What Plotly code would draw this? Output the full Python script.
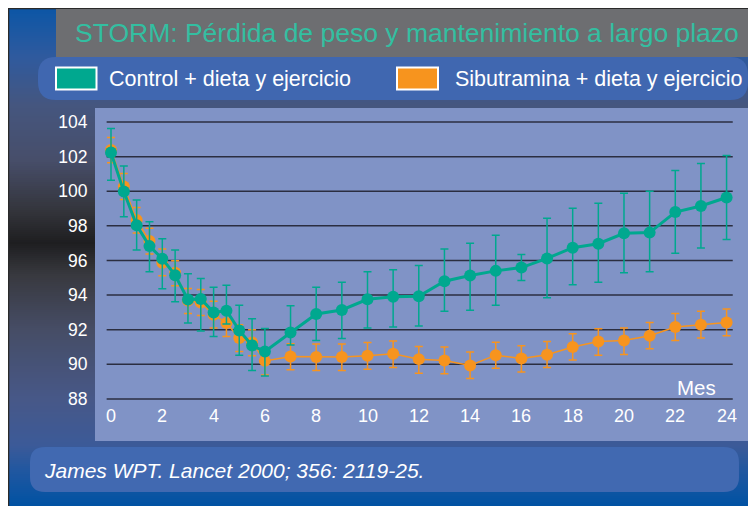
import plotly.graph_objects as go

# ---------------- data ----------------
months = [0, 0.5, 1, 1.5, 2, 2.5, 3, 3.5, 4, 4.5, 5, 5.5, 6,
          7, 8, 9, 10, 11, 12, 13, 14, 15, 16, 17, 18, 19, 20, 21, 22, 23, 24]

control = [102.24, 99.98, 98.03, 96.83, 96.10, 95.15, 93.74, 93.78, 93.00, 93.10, 91.96, 91.09, 90.74,
           91.84, 92.91, 93.14, 93.76, 93.90, 93.93, 94.80, 95.13, 95.40, 95.59, 96.12,
           96.74, 96.97, 97.57, 97.61, 98.80, 99.15, 99.64]
control_err_up = [1.39, 1.48, 1.47, 1.41, 1.16, 1.45, 1.49, 1.18, 1.45, 1.47, 1.45, 1.55, 1.33,
                  1.55, 1.54, 1.60, 1.59, 1.57, 1.78, 1.86, 1.86, 2.06, 0.75, 2.32,
                  2.28, 2.34, 2.32, 2.39, 2.40, 2.46, 2.43]
control_err_down = [1.61, 1.45, 1.43, 1.48, 1.74, 1.54, 1.35, 1.86, 1.39, 0.77, 1.43, 1.45, 1.41,
                    0.73, 1.53, 1.65, 1.66, 1.74, 1.72, 1.74, 2.01, 1.99, 0.75, 2.28,
                    2.14, 2.23, 2.28, 2.26, 2.38, 2.43, 2.43]

sibutramine = [102.39, 100.27, 98.34, 97.12, 95.87, 95.29, 93.68, 93.57, 92.87, 92.39, 91.52, 91.26, 90.20,
               90.45, 90.42, 90.42, 90.49, 90.61, 90.30, 90.22, 89.93, 90.53, 90.34, 90.55,
               91.00, 91.32, 91.38, 91.65, 92.16, 92.29, 92.42]
sibutramine_err_up = [0.72, 0.75, 0.72, 0.74, 0.79, 0.70, 0.70, 0.75, 0.77, 0.67, 0.77, 0.74, 0.74,
                      0.74, 0.75, 0.75, 0.77, 0.74, 0.73, 0.78, 0.78, 0.75, 0.74, 0.77,
                      0.77, 0.74, 0.72, 0.77, 0.77, 0.77, 0.78]
sibutramine_err_down = [0.75, 0.75, 0.75, 0.75, 0.75, 0.75, 0.75, 0.75, 0.77, 0.78, 0.78, 0.77, 0.81,
                        0.77, 0.78, 0.78, 0.77, 0.79, 0.81, 0.77, 0.75, 0.75, 0.79, 0.74,
                        0.75, 0.79, 0.81, 0.75, 0.78, 0.77, 0.77]

x_ticks = [0, 2, 4, 6, 8, 10, 12, 14, 16, 18, 20, 22, 24]
y_ticks = [88, 90, 92, 94, 96, 98, 100, 102, 104]

title_text = "STORM: Pérdida de peso y mantenimiento a largo plazo"
name_control = "Control + dieta y ejercicio"
name_sibu = "Sibutramina + dieta y ejercicio"
citation = "James WPT. Lancet 2000; 356: 2119-25."
x_unit = "Mes"

# ---------------- styling ----------------
PAGE_W, PAGE_H = 756, 506
OFF = 8                      # default page body margin
W, H = PAGE_W - OFF, PAGE_H - OFF
PL, PR, PT, PB = 95, 753, 108, 441   # plot area in page pixels
GREEN = "#00a88f"
ORANGE = "#f7941e"
FONT = "Liberation Sans, Arial, sans-serif"


def px(x):
    return (x - PL) / (PR - PL)


def py(y):
    return (PB - y) / (PB - PT)


def hex2rgb(h):
    h = h.lstrip("#")
    return tuple(int(h[i:i + 2], 16) for i in (0, 2, 4))


stops = [(7, "#0b56a6"), (57, "#2f5a9e"), (105, "#45567f"), (160, "#474e6a"),
         (210, "#34353c"), (243, "#1e1e20"), (275, "#38393f"), (330, "#464d66"),
         (400, "#475888"), (445, "#3c5a98"), (470, "#2157a0"), (506, "#0052a3")]


def grad(y):
    for (ya, ca), (yb, cb) in zip(stops[:-1], stops[1:]):
        if ya <= y <= yb:
            t = (y - ya) / (yb - ya)
            a, b = hex2rgb(ca), hex2rgb(cb)
            return "rgb(%d,%d,%d)" % tuple(round(a[i] + (b[i] - a[i]) * t) for i in range(3))
    return stops[-1][1]


def rr(x0, y0, x1, y1, r):
    pts = [("M", [(x0 + r, y0)]), ("L", [(x1 - r, y0)]), ("Q", [(x1, y0), (x1, y0 + r)]),
           ("L", [(x1, y1 - r)]), ("Q", [(x1, y1), (x1 - r, y1)]), ("L", [(x0 + r, y1)]),
           ("Q", [(x0, y1), (x0, y1 - r)]), ("L", [(x0, y0 + r)]), ("Q", [(x0, y0), (x0 + r, y0)])]
    s = ""
    for cmd, ps in pts:
        s += cmd + " " + " ".join("%.5f,%.5f" % (px(a), py(b)) for a, b in ps) + " "
    return s + "Z"


shapes = []
step = 2
y = OFF
while y < PAGE_H:
    shapes.append(dict(type="rect", xref="paper", yref="paper", layer="below",
                       x0=px(OFF - 1), x1=px(PAGE_W + 2), y0=py(y - (1 if y == OFF else 0)),
                       y1=py(y + step + 0.6),
                       fillcolor=grad(y + step / 2), line=dict(width=0)))
    y += step

# borders
shapes.append(dict(type="line", xref="paper", yref="paper", layer="below",
                   x0=px(OFF + 0.5), x1=px(OFF + 0.5), y0=py(OFF), y1=py(PAGE_H + 2),
                   line=dict(color="#2a2a2a", width=1.5)))
shapes.append(dict(type="line", xref="paper", yref="paper", layer="below",
                   x0=px(OFF), x1=px(PAGE_W + 2), y0=py(OFF + 0.5), y1=py(OFF + 0.5),
                   line=dict(color="#2a2a2a", width=1.5)))
# title bar
shapes.append(dict(type="rect", xref="paper", yref="paper", layer="below",
                   x0=px(56), x1=px(PAGE_W + 2), y0=py(9), y1=py(57),
                   fillcolor="#6d6e71", line=dict(width=0)))
# legend pill
shapes.append(dict(type="path", xref="paper", yref="paper", layer="below",
                   path=rr(38, 57, 748, 100, 18), fillcolor="#4067b0", line=dict(width=0)))
shapes.append(dict(type="rect", xref="paper", yref="paper", layer="below",
                   x0=px(56), x1=px(96.5), y0=py(67.5), y1=py(89.5),
                   fillcolor=GREEN, line=dict(color="white", width=2)))
shapes.append(dict(type="rect", xref="paper", yref="paper", layer="below",
                   x0=px(397), x1=px(438), y0=py(67.5), y1=py(89.5),
                   fillcolor=ORANGE, line=dict(color="white", width=2)))
# citation pill
shapes.append(dict(type="path", xref="paper", yref="paper", layer="below",
                   path=rr(30, 447, 739, 492, 15), fillcolor="#4169b1", line=dict(width=0)))
# plot area
shapes.append(dict(type="rect", xref="paper", yref="paper", layer="below",
                   x0=0, x1=1, y0=0, y1=1, fillcolor="#8093c6", line=dict(width=0)))
# gridlines
for v in y_ticks:
    shapes.append(dict(type="line", xref="x", yref="y", layer="below",
                       x0=-0.17, x1=24.24, y0=v, y1=v,
                       line=dict(color="#2b2e40", width=1.5)))

annotations = [
    dict(text=title_text, x=px(73), y=py(33), xref="paper", yref="paper",
         xanchor="left", yanchor="middle", showarrow=False,
         font=dict(family=FONT, size=26.5, color="#33bfa1")),
    dict(text=name_control, x=px(107), y=py(79), xref="paper", yref="paper",
         xanchor="left", yanchor="middle", showarrow=False,
         font=dict(family=FONT, size=21.5, color="white")),
    dict(text=name_sibu, x=px(453), y=py(79), xref="paper", yref="paper",
         xanchor="left", yanchor="middle", showarrow=False,
         font=dict(family=FONT, size=21.5, color="white")),
    dict(text="<i>" + citation + "</i>", x=px(42), y=py(470), xref="paper", yref="paper",
         xanchor="left", yanchor="middle", showarrow=False,
         font=dict(family=FONT, size=21, color="white")),
    dict(text=x_unit, x=px(696), y=py(387), xref="paper", yref="paper",
         xanchor="center", yanchor="middle", showarrow=False,
         font=dict(family=FONT, size=20.5, color="white")),
]
for t in x_ticks:
    annotations.append(dict(text=str(t), x=t, y=py(416), xref="x", yref="paper",
                            xanchor="center", yanchor="middle", showarrow=False,
                            font=dict(family=FONT, size=18, color="white")))

fig = go.Figure()
fig.add_trace(go.Scatter(
    x=months, y=sibutramine, name=name_sibu, mode="lines+markers",
    line=dict(color=ORANGE, width=1.5),
    marker=dict(color=ORANGE, size=12),
    error_y=dict(type="data", symmetric=False, array=sibutramine_err_up,
                 arrayminus=sibutramine_err_down, color=ORANGE, thickness=1.5, width=4)))
fig.add_trace(go.Scatter(
    x=months, y=control, name=name_control, mode="lines+markers",
    line=dict(color=GREEN, width=3),
    marker=dict(color=GREEN, size=12),
    error_y=dict(type="data", symmetric=False, array=control_err_up,
                 arrayminus=control_err_down, color=GREEN, thickness=1.5, width=4)))

fig.update_layout(
    width=W, height=H, autosize=False,
    margin=dict(l=PL - OFF, r=PAGE_W - PR, t=PT - OFF, b=PAGE_H - PB, pad=0),
    paper_bgcolor="white", plot_bgcolor="rgba(0,0,0,0)",
    showlegend=False, shapes=shapes, annotations=annotations,
    xaxis=dict(range=[-0.624, 25.03], showgrid=False, zeroline=False,
               showticklabels=False, showline=False, ticks=""),
    yaxis=dict(range=[85.57, 104.81], showgrid=False, zeroline=False, showline=False,
               tickvals=y_ticks, ticks="outside", ticklen=3, tickcolor="rgba(0,0,0,0)",
               tickfont=dict(family=FONT, size=17.5, color="white")),
)

fig.write_html("out.html")
